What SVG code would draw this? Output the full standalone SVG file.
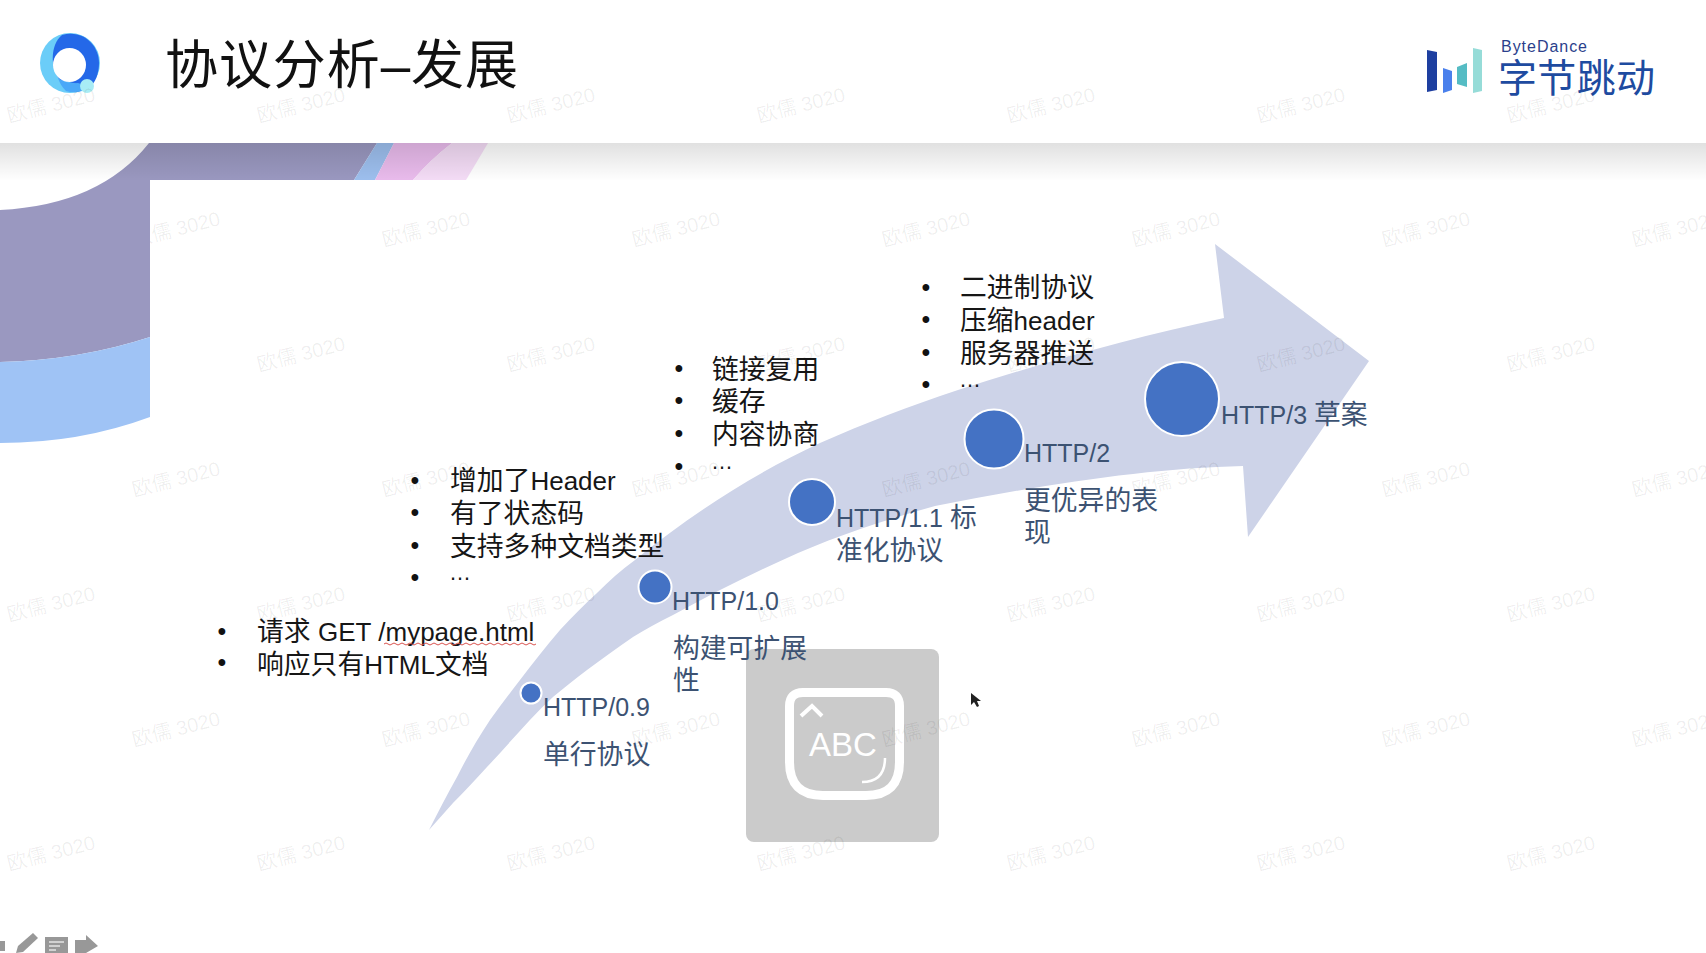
<svg xmlns="http://www.w3.org/2000/svg" width="1706" height="953" viewBox="0 0 1706 953">
<style>
text{font-family:"Liberation Sans","Noto Sans CJK SC",sans-serif}
.zh{font-size:26.8px}
.la{font-size:25px}
.li{font-size:26px}
.list{fill:#161616}
.lab{fill:#3c5272}
.b{font-size:25px;fill:#111;text-anchor:middle}
.dot{fill:#4472c4;stroke:#fff;stroke-width:2}
.wm{font-size:20px;fill:#000;fill-opacity:.065;text-anchor:middle}
.tool{fill:#989898}
</style>
<defs>
<linearGradient id="shade" x1="0" y1="0" x2="0" y2="1"><stop offset="0" stop-color="#000" stop-opacity=".12"/><stop offset="1" stop-color="#000" stop-opacity="0"/></linearGradient>
<clipPath id="wmclip"><rect x="150" y="180" width="120" height="100"/></clipPath>
</defs>
<rect width="1706" height="953" fill="#fff"/>
<g id="backdrop">
<path d="M149 143 Q100 205 0 210 V362 Q80 360 150 337 V180 H354 L377 143Z" fill="#9a98c0"/>
<path d="M0 362 Q80 360 150 337 V417 Q80 443 0 443Z" fill="#9fc3f5"/>
<path d="M377 143 H394 L375 180 H354Z" fill="#9dbfee"/>
<path d="M394 143 H452 Q430 160 413 180 H375Z" fill="#e9bbec"/>
<path d="M452 143 H488 Q478 160 466 180 H413 Q430 160 452 143Z" fill="#f4dcf6"/>
<rect x="0" y="143" width="1706" height="38" fill="url(#shade)"/>
<rect x="0" y="0" width="1706" height="143" fill="#fff"/>
</g>
<g id="logo-q">
<circle cx="70" cy="63" r="30" fill="#6bcdf8"/>
<path d="M62 35 C84 29 99 46 99 63 C99 74 95 83 90 87 L60 80 C50 68 50 45 62 35Z" fill="#2468e8"/>
<path d="M58 78 Q65 84 78 83 L90 87 Q78 95 66 91 Q60 85 58 78Z" fill="#4aa8f8"/>
<ellipse cx="69.500" cy="65" rx="16.500" ry="17" fill="#fff"/>
<circle cx="87" cy="86" r="7" fill="#a8ecf5"/>
</g>
<text id="title" x="165" y="84" font-size="53" textLength="353" lengthAdjust="spacing" fill="#111">协议分析–发展</text>
<g id="logo-bytedance">
<path d="M1427 50 L1437 52 V90 L1427 92Z" fill="#1e3fa0"/>
<path d="M1443 68 L1452 71 V90 L1443 93Z" fill="#4a80ec"/>
<path d="M1457 67 L1467 63 V87 L1457 84Z" fill="#55bcc4"/>
<path d="M1473 48 L1482 50 V91 L1473 93Z" fill="#96dcd8"/>
<text x="1501" y="52" font-size="16" textLength="86" fill="#2b3f8c">ByteDance</text>
<text x="1498" y="92" font-size="39" textLength="157" fill="#1e4ba0">字节跳动</text>
</g>
<g id="connectors">
<path id="arrow" d="M429 830 C438 812 447 795 457 777 C467 757 478 738 490 720 C500 706 510 693 520 680 C533 663 546 646 560 630 C572 617 585 604 597 593 C609 581 621 570 635 560 C690 515 755 473 820 443 C865 423 910 406 958 390 C1045 362 1135 337 1224 318 L1215 244 L1369 361 L1248 537 L1243 466 C1150 468 1040 485 935 506 C885 520 840 535 798 553 C755 572 715 592 673 615 C658 622 645 630 633 637 C617 648 602 659 587 670 C575 679 564 688 553 697 C530 718 508 745 487 767 C476 779 465 791 453 803 C445 812 437 821 429 830Z" fill="#cdd3e8"/>
</g>
<g id="ime-box">
<rect x="746" y="649" width="193" height="193" rx="8" fill="#cbcbcb"/>
<path d="M803 692.500 H886 Q899.500 692.500 899.500 706 V762 Q899.500 795.500 866 795.500 H823 Q789.500 795.500 789.500 762 V706 Q789.500 692.500 803 692.500Z" fill="none" stroke="#fff" stroke-width="9"/>
<path d="M801 716 L812 706 L822 716" fill="none" stroke="#fff" stroke-width="4"/>
<text x="809" y="756" font-size="33" fill="#fff">ABC</text>
<path d="M885 758 Q885 782 862 782" fill="none" stroke="#fff" stroke-width="2.500"/>
</g>
<path id="cursor" d="M971 693 V705 L974 702 L977 707 L979 706 L977 701 L981 701Z" fill="#222"/>
<g id="node-http09">
<circle class="dot" cx="531" cy="693" r="10.500"/>
<text class="lab la" x="543" y="716">HTTP/0.9</text>
<text class="lab zh" x="543" y="764">单行协议</text>
</g>
<g id="node-http10">
<circle class="dot" cx="655" cy="587" r="16.500"/>
<text class="lab la" x="672" y="610">HTTP/1.0</text>
<text class="lab zh" x="673" y="658">构建可扩展</text>
<text class="lab zh" x="673" y="690">性</text>
</g>
<g id="node-http11">
<circle class="dot" cx="812" cy="502" r="23"/>
<text class="lab la" x="836" y="527">HTTP/1.1 <tspan class="zh">标</tspan></text>
<text class="lab zh" x="836" y="560">准化协议</text>
</g>
<g id="node-http2">
<circle class="dot" cx="994" cy="439" r="29.500"/>
<text class="lab la" x="1024" y="462">HTTP/2</text>
<text class="lab zh" x="1024" y="510">更优异的表</text>
<text class="lab zh" x="1024" y="542">现</text>
</g>
<g id="node-http3">
<circle class="dot" cx="1182" cy="399" r="37"/>
<text class="lab la" x="1221" y="424">HTTP/3 <tspan class="zh">草案</tspan></text>
</g>
<g id="list-09">
<text class="b" x="222" y="640">•</text>
<text class="b" x="222" y="671">•</text>
<text class="list zh" x="257" y="641">请求 <tspan class="li">GET /mypage.html</tspan></text>
<text class="list zh" x="257" y="674">响应只有<tspan class="li">HTML</tspan>文档</text>
<path d="M384 644 q2 -2 4 0 t4 0 t4 0 t4 0 t4 0 t4 0 t4 0 t4 0 t4 0 t4 0 t4 0 t4 0 t4 0 t4 0 t4 0 t4 0 t4 0 t4 0 t4 0 t4 0 t4 0 t4 0 t4 0 t4 0 t4 0 t4 0 t4 0 t4 0 t4 0 t4 0 t4 0 t4 0 t4 0 t4 0 t4 0 t4 0 t4 0 t4 0" fill="none" stroke="#d9534f" stroke-width="1"/>
</g>
<g id="list-10">
<text class="b" x="415" y="489">•</text>
<text class="b" x="415" y="521">•</text>
<text class="b" x="415" y="554">•</text>
<text class="b" x="415" y="586">•</text>
<text class="list zh" x="450" y="490">增加了<tspan class="li">Header</tspan></text>
<text class="list zh" x="450" y="523">有了状态码</text>
<text class="list zh" x="450" y="556">支持多种文档类型</text>
<text class="list" font-size="22" x="449" y="580">…</text>
</g>
<g id="list-11">
<text class="b" x="679" y="377">•</text>
<text class="b" x="679" y="409">•</text>
<text class="b" x="679" y="442">•</text>
<text class="b" x="679" y="475">•</text>
<text class="list zh" x="712" y="379">链接复用</text>
<text class="list zh" x="712" y="411">缓存</text>
<text class="list zh" x="712" y="444">内容协商</text>
<text class="list" font-size="22" x="711" y="469">…</text>
</g>
<g id="list-2">
<text class="b" x="926" y="296">•</text>
<text class="b" x="926" y="328">•</text>
<text class="b" x="926" y="361">•</text>
<text class="b" x="926" y="393">•</text>
<text class="list zh" x="960" y="297">二进制协议</text>
<text class="list zh" x="960" y="330">压缩<tspan class="li">header</tspan></text>
<text class="list zh" x="960" y="363">服务器推送</text>
<text class="list" font-size="22" x="959" y="387">…</text>
</g>
<g id="toolbar">
<rect class="tool" x="0" y="941" width="5" height="10"/>
<path d="M16 953 L18 946 L33 933 L38 938 L23 952Z" class="tool"/>
<rect class="tool" x="45" y="937" width="23" height="16"/>
<path d="M49 942 H64 M49 946 H60 M49 950 H56" stroke="#e4e4e4" stroke-width="1.500" fill="none"/>
<path d="M75 940 H86 V935 L98 946 L86 953 H75Z" class="tool"/>
</g>
<g id="watermarks">
<text class="wm" x="51" y="112" transform="rotate(-14 51 105)">欧儒 3020</text>
<text class="wm" x="301" y="112" transform="rotate(-14 301 105)">欧儒 3020</text>
<text class="wm" x="551" y="112" transform="rotate(-14 551 105)">欧儒 3020</text>
<text class="wm" x="801" y="112" transform="rotate(-14 801 105)">欧儒 3020</text>
<text class="wm" x="1051" y="112" transform="rotate(-14 1051 105)">欧儒 3020</text>
<text class="wm" x="1301" y="112" transform="rotate(-14 1301 105)">欧儒 3020</text>
<text class="wm" x="1551" y="112" transform="rotate(-14 1551 105)">欧儒 3020</text>
<g clip-path="url(#wmclip)"><text class="wm" x="176" y="236" transform="rotate(-14 176 229)">欧儒 3020</text></g>
<text class="wm" x="426" y="236" transform="rotate(-14 426 229)">欧儒 3020</text>
<text class="wm" x="676" y="236" transform="rotate(-14 676 229)">欧儒 3020</text>
<text class="wm" x="926" y="236" transform="rotate(-14 926 229)">欧儒 3020</text>
<text class="wm" x="1176" y="236" transform="rotate(-14 1176 229)">欧儒 3020</text>
<text class="wm" x="1426" y="236" transform="rotate(-14 1426 229)">欧儒 3020</text>
<text class="wm" x="1676" y="236" transform="rotate(-14 1676 229)">欧儒 3020</text>
<text class="wm" x="301" y="361" transform="rotate(-14 301 354)">欧儒 3020</text>
<text class="wm" x="551" y="361" transform="rotate(-14 551 354)">欧儒 3020</text>
<text class="wm" x="801" y="361" transform="rotate(-14 801 354)">欧儒 3020</text>
<text class="wm" x="1051" y="361" transform="rotate(-14 1051 354)">欧儒 3020</text>
<text class="wm" x="1301" y="361" transform="rotate(-14 1301 354)">欧儒 3020</text>
<text class="wm" x="1551" y="361" transform="rotate(-14 1551 354)">欧儒 3020</text>
<text class="wm" x="176" y="486" transform="rotate(-14 176 479)">欧儒 3020</text>
<text class="wm" x="426" y="486" transform="rotate(-14 426 479)">欧儒 3020</text>
<text class="wm" x="676" y="486" transform="rotate(-14 676 479)">欧儒 3020</text>
<text class="wm" x="926" y="486" transform="rotate(-14 926 479)">欧儒 3020</text>
<text class="wm" x="1176" y="486" transform="rotate(-14 1176 479)">欧儒 3020</text>
<text class="wm" x="1426" y="486" transform="rotate(-14 1426 479)">欧儒 3020</text>
<text class="wm" x="1676" y="486" transform="rotate(-14 1676 479)">欧儒 3020</text>
<text class="wm" x="51" y="611" transform="rotate(-14 51 604)">欧儒 3020</text>
<text class="wm" x="301" y="611" transform="rotate(-14 301 604)">欧儒 3020</text>
<text class="wm" x="551" y="611" transform="rotate(-14 551 604)">欧儒 3020</text>
<text class="wm" x="801" y="611" transform="rotate(-14 801 604)">欧儒 3020</text>
<text class="wm" x="1051" y="611" transform="rotate(-14 1051 604)">欧儒 3020</text>
<text class="wm" x="1301" y="611" transform="rotate(-14 1301 604)">欧儒 3020</text>
<text class="wm" x="1551" y="611" transform="rotate(-14 1551 604)">欧儒 3020</text>
<text class="wm" x="176" y="736" transform="rotate(-14 176 729)">欧儒 3020</text>
<text class="wm" x="426" y="736" transform="rotate(-14 426 729)">欧儒 3020</text>
<text class="wm" x="676" y="736" transform="rotate(-14 676 729)">欧儒 3020</text>
<text class="wm" x="926" y="736" transform="rotate(-14 926 729)">欧儒 3020</text>
<text class="wm" x="1176" y="736" transform="rotate(-14 1176 729)">欧儒 3020</text>
<text class="wm" x="1426" y="736" transform="rotate(-14 1426 729)">欧儒 3020</text>
<text class="wm" x="1676" y="736" transform="rotate(-14 1676 729)">欧儒 3020</text>
<text class="wm" x="51" y="860" transform="rotate(-14 51 853)">欧儒 3020</text>
<text class="wm" x="301" y="860" transform="rotate(-14 301 853)">欧儒 3020</text>
<text class="wm" x="551" y="860" transform="rotate(-14 551 853)">欧儒 3020</text>
<text class="wm" x="801" y="860" transform="rotate(-14 801 853)">欧儒 3020</text>
<text class="wm" x="1051" y="860" transform="rotate(-14 1051 853)">欧儒 3020</text>
<text class="wm" x="1301" y="860" transform="rotate(-14 1301 853)">欧儒 3020</text>
<text class="wm" x="1551" y="860" transform="rotate(-14 1551 853)">欧儒 3020</text>
</g>
</svg>
